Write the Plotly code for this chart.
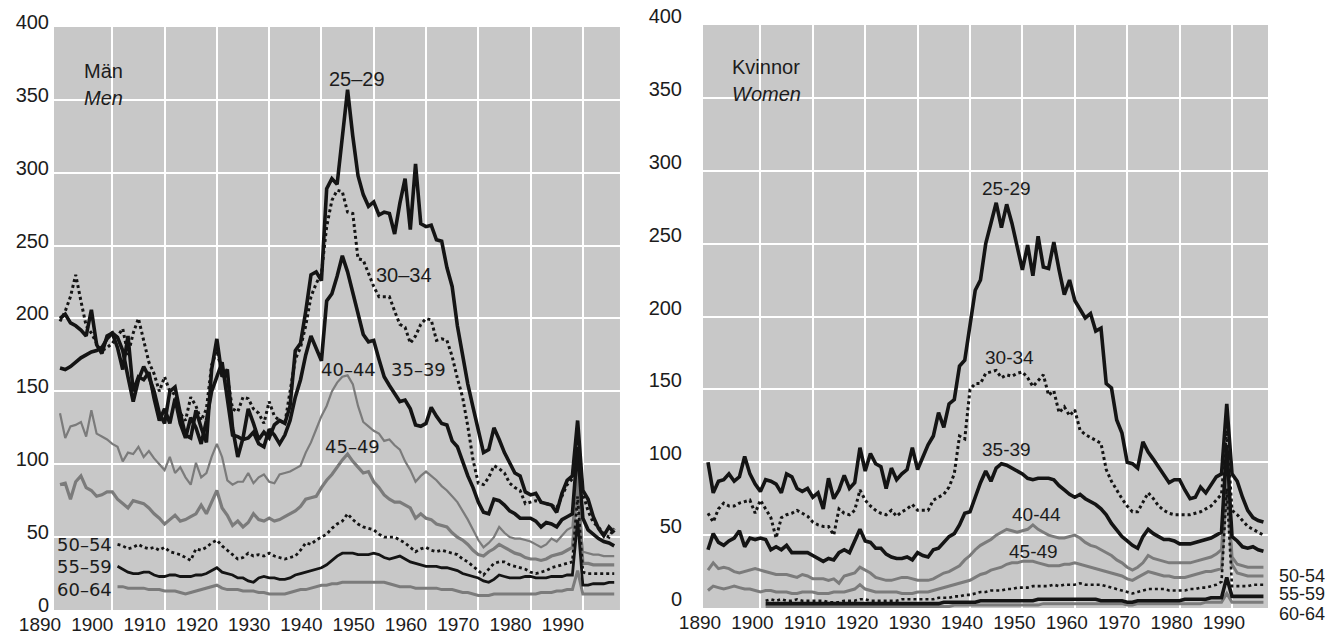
import plotly.graph_objects as go

# years on the x axis; the three oldest age groups start in 1901
years = list(range(1890, 1997))
years_late = list(range(1901, 1997))

# Män / Men
men_25_29 = [166, 165, 167, 170, 173, 175, 177, 178, 180, 186,
             190, 187, 178, 160, 143, 158, 167, 160, 150, 135,
             128, 150, 153, 135, 120, 118, 137, 125, 115, 165,
             186, 160, 165, 125, 105, 118, 138, 128, 117, 122,
             118, 127, 130, 128, 140, 178, 183, 205, 230, 232,
             226, 289, 296, 292, 325, 357, 325, 298, 285, 277,
             280, 271, 273, 272, 258, 279, 296, 261, 306, 265,
             263, 264, 254, 253, 235, 222, 195, 174, 155, 139,
             123, 108, 110, 125, 117, 108, 101, 94, 92, 81,
             79, 80, 74, 73, 72, 67, 80, 89, 92, 130,
             82, 76, 64, 56, 51, 57, 53]
men_30_34 = [198, 205, 215, 230, 212, 195, 190, 183, 178, 180,
             183, 188, 193, 175, 190, 200, 185, 170, 162, 150,
             160, 150, 148, 135, 130, 146, 140, 130, 138, 168,
             178, 163, 160, 138, 136, 146, 145, 138, 135, 128,
             143, 133, 130, 128, 150, 172, 180, 195, 215, 224,
             231, 263, 281, 288, 287, 273, 272, 241, 240, 231,
             222, 215, 215, 215, 205, 196, 194, 183, 188, 196,
             200, 199, 185, 186, 185, 174, 159, 146, 126, 103,
             87, 86, 91, 99, 97, 94, 87, 84, 82, 73,
             74, 75, 74, 73, 72, 70, 78, 86, 90, 122,
             80, 68, 60, 57, 52, 50, 56]
men_35_39 = [200, 203, 197, 195, 192, 188, 206, 182, 176, 188,
             190, 180, 165, 188, 150, 160, 158, 163, 145, 130,
             138, 128, 145, 128, 118, 132, 125, 114, 130, 150,
             160, 170, 145, 120, 119, 117, 118, 122, 114, 112,
             124, 120, 114, 120, 130, 146, 158, 175, 188, 180,
             171, 212, 217, 229, 243, 232, 218, 205, 189, 184,
             185, 172, 160, 154, 149, 143, 144, 138, 127, 126,
             128, 139, 133, 128, 127, 116, 112, 102, 92, 84,
             74, 67, 66, 76, 75, 72, 68, 66, 63, 63,
             63, 61, 57, 60, 59, 57, 62, 64, 66, 112,
             63, 55, 52, 49, 47, 46, 44]
men_40_44 = [135, 118, 126, 127, 129, 119, 137, 121, 119, 117,
             114, 112, 102, 108, 107, 112, 105, 109, 104, 100,
             96, 105, 94, 98, 91, 86, 101, 91, 94, 105,
             114, 105, 89, 86, 88, 88, 94, 87, 91, 93,
             88, 87, 93, 94, 95, 97, 99, 108, 115, 124,
             133, 140, 150, 156, 160, 161, 155, 140, 129, 126,
             123, 121, 116, 117, 113, 110, 102, 96, 88, 92,
             95, 92, 89, 85, 82, 78, 74, 68, 62, 55,
             48, 43, 46, 50, 57, 53, 50, 49, 49, 48,
             47, 45, 43, 45, 49, 47, 51, 55, 57, 98,
             40, 39, 38, 38, 37, 37, 37]
men_45_49 = [86, 87, 76, 88, 92, 84, 82, 78, 79, 81,
             81, 76, 73, 70, 75, 74, 73, 70, 66, 63,
             59, 62, 65, 61, 62, 64, 66, 72, 66, 74,
             82, 70, 65, 58, 61, 57, 60, 66, 62, 61,
             63, 61, 62, 64, 66, 68, 71, 76, 77, 78,
             84, 89, 93, 98, 103, 107, 102, 98, 94, 95,
             88, 84, 79, 76, 74, 74, 72, 70, 63, 66,
             63, 62, 59, 58, 57, 53, 50, 48, 45, 41,
             38, 37, 40, 42, 45, 43, 41, 39, 38, 36,
             35, 35, 34, 35, 37, 38, 39, 41, 43, 88,
             32, 32, 31, 31, 31, 31, 31]
men_50_54 = [45, 44, 42, 43, 45, 43, 42, 43, 41,
             43, 40, 39, 38, 36, 34, 42, 41, 43, 46,
             48, 44, 41, 38, 35, 36, 39, 37, 38, 37,
             39, 37, 36, 35, 36, 37, 41, 46, 45, 48,
             50, 52, 56, 59, 61, 66, 62, 59, 57, 56,
             55, 52, 50, 50, 50, 48, 46, 43, 40, 42,
             43, 41, 40, 41, 40, 39, 38, 35, 33, 30,
             27, 24, 28, 32, 33, 33, 31, 30, 29, 28,
             26, 25, 26, 27, 29, 30, 31, 32, 33, 78,
             26, 25, 25, 25, 25, 25, 25]
men_55_59 = [30, 28, 26, 25, 25, 26, 26, 24, 23,
             23, 24, 24, 23, 23, 23, 24, 24, 25, 27,
             29, 26, 25, 24, 22, 22, 20, 19, 22, 23,
             22, 22, 21, 21, 22, 24, 25, 26, 27, 28,
             29, 31, 34, 37, 39, 39, 39, 38, 38, 38,
             39, 38, 36, 35, 36, 37, 35, 33, 32, 31,
             30, 30, 30, 29, 29, 28, 27, 25, 24, 23,
             22, 20, 19, 21, 24, 23, 22, 22, 22, 23,
             23, 22, 22, 22, 23, 23, 23, 24, 24, 62,
             17, 17, 18, 18, 18, 19, 19]
men_60_64 = [16, 16, 15, 15, 15, 15, 14, 14, 14,
             13, 13, 13, 12, 11, 12, 13, 14, 15, 16,
             17, 15, 14, 14, 14, 13, 13, 13, 12, 12,
             11, 11, 11, 11, 12, 13, 14, 14, 15, 16,
             17, 17, 18, 18, 19, 19, 19, 19, 19, 19,
             19, 19, 19, 18, 17, 16, 16, 16, 15, 15,
             15, 15, 15, 14, 14, 14, 13, 12, 12, 11,
             10, 10, 10, 11, 11, 11, 11, 11, 11, 11,
             11, 11, 12, 12, 12, 13, 13, 14, 14, 27,
             11, 11, 11, 11, 11, 11, 11]

# Kvinnor / Women
women_25_29 = [100, 79, 87, 88, 92, 87, 90, 104, 92, 85,
               80, 88, 87, 85, 79, 92, 90, 82, 80, 82,
               76, 79, 68, 89, 75, 81, 91, 82, 86, 110,
               94, 106, 99, 97, 82, 96, 88, 92, 95, 110,
               95, 104, 112, 118, 134, 124, 140, 143, 166, 170,
               195, 218, 225, 250, 264, 278, 261, 277, 264, 248,
               232, 249, 228, 255, 234, 233, 251, 232, 215, 225,
               211, 205, 199, 202, 190, 192, 154, 151, 129, 120,
               100, 99, 96, 114, 107, 102, 97, 92, 86, 88,
               88, 81, 75, 76, 83, 79, 85, 90, 92, 140,
               92, 87, 76, 67, 62, 60, 59]
women_30_34 = [65, 59, 68, 72, 70, 70, 72, 73, 74, 65,
               74, 68, 62, 48, 62, 64, 65, 67, 65, 63,
               59, 57, 56, 56, 50, 68, 65, 64, 67, 81,
               74, 70, 67, 65, 64, 67, 63, 66, 68, 71,
               67, 67, 67, 74, 76, 78, 83, 92, 118, 116,
               150, 154, 154, 161, 162, 163, 158, 160, 159, 161,
               162, 158, 152, 156, 160, 146, 149, 134, 138, 132,
               136, 122, 119, 117, 115, 113, 95, 87, 81, 75,
               70, 66, 66, 73, 79, 75, 70, 67, 65, 64,
               64, 64, 64, 65, 66, 68, 70, 74, 78, 122,
               67, 64, 60, 56, 54, 52, 50]
women_35_39 = [40, 51, 45, 43, 46, 48, 53, 42, 48, 47,
               48, 47, 40, 42, 40, 43, 38, 38, 38, 38,
               36, 34, 32, 34, 33, 38, 40, 38, 46, 54,
               46, 45, 41, 41, 37, 35, 34, 34, 35, 33,
               38, 36, 35, 40, 41, 45, 49, 51, 57, 65,
               66, 76, 86, 94, 87, 96, 99, 98, 96, 94,
               92, 89, 88, 89, 89, 89, 88, 84, 81, 78,
               76, 78, 75, 73, 71, 68, 64, 58, 53, 49,
               46, 43, 41, 49, 54, 51, 49, 47, 47, 46,
               44, 44, 44, 45, 46, 47, 48, 50, 52, 112,
               49, 46, 42, 41, 42, 40, 39]
women_40_44 = [26, 31, 27, 28, 27, 25, 24, 25, 26, 27,
               26, 25, 24, 23, 23, 23, 22, 21, 23, 22,
               20, 20, 20, 19, 20, 17, 22, 23, 24, 28,
               26, 24, 21, 20, 19, 19, 20, 21, 21, 20,
               19, 19, 19, 20, 22, 24, 25, 27, 29, 33,
               36, 40, 43, 45, 47, 50, 52, 54, 53, 52,
               53, 54, 57, 54, 52, 50, 49, 48, 48, 49,
               50, 48, 45, 43, 42, 40, 38, 36, 33, 31,
               28, 26, 28, 31, 36, 34, 33, 32, 31, 31,
               31, 31, 31, 32, 33, 34, 35, 37, 40, 100,
               35, 30, 29, 28, 28, 28, 28]
women_45_49 = [12, 15, 14, 13, 14, 15, 14, 13, 13, 12,
               11, 12, 12, 11, 11, 11, 10, 10, 11, 11,
               11, 10, 10, 10, 11, 11, 11, 12, 13, 16,
               13, 12, 11, 11, 11, 11, 11, 10, 10, 10,
               11, 11, 11, 12, 13, 14, 15, 16, 17, 18,
               19, 21, 23, 24, 26, 27, 28, 30, 31, 31,
               32, 32, 32, 31, 30, 29, 29, 29, 30, 30,
               31, 30, 29, 28, 27, 26, 25, 24, 23, 22,
               20, 19, 21, 23, 25, 24, 23, 22, 22, 21,
               21, 21, 22, 23, 24, 25, 25, 26, 27, 90,
               30, 24, 23, 22, 22, 22, 22]
women_50_54 = [5, 6, 5, 6, 5, 5, 6, 5, 5,
               5, 5, 5, 4, 4, 4, 5, 5, 5, 6,
               6, 5, 5, 5, 5, 5, 5, 6, 6, 6,
               6, 6, 6, 6, 7, 7, 7, 8, 8, 9,
               9, 10, 11, 11, 12, 12, 12, 13, 13, 14,
               14, 14, 15, 15, 15, 15, 16, 15, 16, 16,
               16, 17, 16, 16, 16, 16, 15, 14, 13, 12,
               11, 10, 11, 12, 13, 13, 13, 13, 12, 12,
               12, 12, 13, 13, 14, 14, 15, 16, 18, 82,
               15, 15, 15, 15, 16, 16, 16]
women_55_59 = [3, 3, 3, 3, 3, 3, 3, 3, 3,
               3, 3, 3, 3, 3, 3, 3, 3, 3, 3,
               3, 3, 3, 3, 3, 3, 3, 3, 3, 3,
               3, 3, 3, 3, 3, 4, 4, 4, 4, 4,
               4, 4, 5, 5, 5, 5, 5, 5, 5, 5,
               5, 5, 5, 6, 6, 6, 6, 6, 6, 6,
               6, 6, 6, 6, 6, 5, 5, 5, 5, 5,
               4, 4, 5, 5, 5, 5, 5, 5, 5, 5,
               5, 6, 6, 6, 6, 6, 7, 7, 7, 21,
               8, 8, 8, 8, 8, 8, 8]
women_60_64 = [1, 1, 1, 1, 1, 1, 1, 1, 1,
               1, 1, 1, 1, 1, 1, 1, 1, 1, 1,
               1, 1, 1, 1, 1, 1, 1, 1, 1, 1,
               1, 1, 1, 1, 1, 1, 1, 2, 2, 2,
               2, 2, 2, 2, 2, 2, 2, 2, 2, 2,
               2, 2, 2, 2, 3, 3, 3, 3, 3, 3,
               3, 3, 3, 3, 3, 3, 3, 3, 3, 3,
               2, 2, 3, 3, 3, 3, 3, 3, 3, 3,
               3, 3, 3, 3, 3, 4, 4, 4, 4, 10,
               4, 4, 4, 4, 4, 4, 4]

decades = list(range(1890, 2000, 10))
y_ticks = list(range(0, 450, 50))

BLACK = '#141414'
GRAY = '#7b7b7b'
BG = '#c8c8c8'
TXT = '#1c1c1c'

fig = go.Figure()


def add_line(x, y, xa, ya, color, width, dash='solid'):
    fig.add_trace(go.Scatter(
        x=x, y=y, mode='lines', xaxis=xa, yaxis=ya,
        line=dict(color=color, width=width, dash=dash),
        showlegend=False, hoverinfo='skip'))


# gray lines first, black lines on top
add_line(years_late, men_60_64, 'x', 'y', GRAY, 3)
add_line(years, men_45_49, 'x', 'y', GRAY, 3.2)
add_line(years, men_40_44, 'x', 'y', GRAY, 2.2)
add_line(years_late, men_55_59, 'x', 'y', BLACK, 2.8)
add_line(years_late, men_50_54, 'x', 'y', BLACK, 2.8, '3px,3px')
add_line(years, men_35_39, 'x', 'y', BLACK, 3.6)
add_line(years, men_30_34, 'x', 'y', BLACK, 3, '3px,3px')
add_line(years, men_25_29, 'x', 'y', BLACK, 3.6)

add_line(years_late, women_60_64, 'x2', 'y2', GRAY, 3)
add_line(years, women_45_49, 'x2', 'y2', GRAY, 3)
add_line(years, women_40_44, 'x2', 'y2', GRAY, 3)
add_line(years_late, women_55_59, 'x2', 'y2', BLACK, 3.6)
add_line(years_late, women_50_54, 'x2', 'y2', BLACK, 2.6, '3px,3px')
add_line(years, women_35_39, 'x2', 'y2', BLACK, 3.6)
add_line(years, women_30_34, 'x2', 'y2', BLACK, 3, '3px,3px')
add_line(years, women_25_29, 'x2', 'y2', BLACK, 3.6)

xfont = dict(family='Liberation Sans, Arial', size=19, color=TXT)
yfont = dict(family='Liberation Sans, Arial', size=20, color=TXT)


def x_axis(domain, rng, shift, anchor):
    return dict(domain=domain, range=rng, anchor=anchor, automargin=False,
                tickmode='array', tickvals=decades, ticktext=[str(d) for d in decades],
                tickangle=0, showgrid=False, zeroline=False, showline=False, ticks='',
                tickfont=xfont, ticklabelshift=shift, ticklabelstandoff=1,
                minor=dict(tickmode='array', tickvals=decades[1:], showgrid=True,
                           gridcolor='white', gridwidth=1.5, ticks=''))


def y_axis(domain, standoff, shift, anchor):
    return dict(domain=domain, range=[0, 400], anchor=anchor, automargin=False,
                tickmode='array', tickvals=y_ticks,
                showgrid=True, gridcolor='white', gridwidth=1.5,
                zeroline=False, showline=False, ticks='',
                tickfont=yfont, ticklabelstandoff=standoff, ticklabelshift=shift)


fig.update_layout(
    width=1328, height=636,
    margin=dict(l=54, r=60, t=25, b=26),
    paper_bgcolor='white', plot_bgcolor=BG,
    xaxis=x_axis([0, 0.4662], [1888.85, 1997.1], -20, 'y'),
    yaxis=y_axis([0, 0.9966], 4, -5, 'x'),
    xaxis2=x_axis([0.5346, 1], [1889.05, 1996.87], -8, 'y2'),
    yaxis2=y_axis([0.0034, 1], 20, -9, 'x2'),
)

lab = dict(family='Liberation Sans, Arial', size=20, color=TXT)
lab2 = dict(family='DejaVu Sans', size=18, color=TXT)
lab3 = dict(family='Liberation Sans, Arial', size=19, color=TXT)
lab4 = dict(family='Liberation Sans, Arial', size=18, color=TXT)

notes = [
    # left panel
    ('x', 'y', 1894.2, 370, 'Män', 'left', lab),
    ('x', 'y', 1894.2, 351, '<i>Men</i>', 'left', lab),
    ('x', 'y', 1946.8, 364, '25–29', 'center', lab),
    ('x', 'y', 1955.8, 230, '30–34', 'center', lab),
    ('x', 'y', 1945.1, 165, '40–44', 'center', lab2),
    ('x', 'y', 1958.5, 165, '35–39', 'center', lab2),
    ('x', 'y', 1946.0, 112.5, '45–49', 'center', lab2),
    ('x', 'y', 1889.0, 44.6, '50–54', 'left', lab2),
    ('x', 'y', 1889.0, 29.5, '55–59', 'left', lab2),
    ('x', 'y', 1889.0, 14.4, '60–64', 'left', lab2),
    # right panel
    ('x2', 'y2', 1894.2, 371, 'Kvinnor', 'left', lab),
    ('x2', 'y2', 1894.2, 353, '<i>Women</i>', 'left', lab),
    ('x2', 'y2', 1946.9, 287.5, '25-29', 'center', lab3),
    ('x2', 'y2', 1947.6, 172, '30-34', 'center', lab3),
    ('x2', 'y2', 1946.9, 109, '35-39', 'center', lab3),
    ('x2', 'y2', 1952.6, 64, '40-44', 'center', lab3),
    ('x2', 'y2', 1952.2, 39, '45-49', 'center', lab3),
    # labels outside the right panel, in paper units
    ('paper', 'paper', 1.0074, 0.0581, '50-54', 'left', lab4),
    ('paper', 'paper', 1.0074, 0.0274, '55-59', 'left', lab4),
    ('paper', 'paper', 1.0074, -0.0068, '60-64', 'left', lab4),
]
for xr, yr, x, y, text, anchor, font in notes:
    fig.add_annotation(xref=xr, yref=yr, x=x, y=y, text=text, showarrow=False,
                       xanchor=anchor, yanchor='middle', font=font)

# the page keeps the figure flush with the window corner
fig.write_html("out.html", config={'displayModeBar': False},
               post_script="document.body.style.margin='0';")
